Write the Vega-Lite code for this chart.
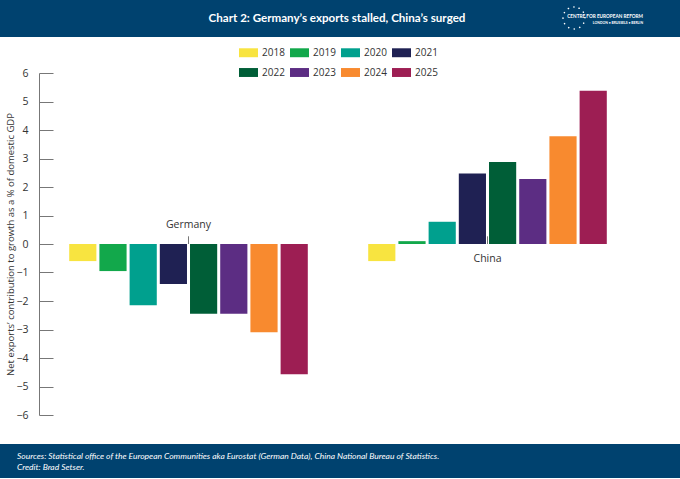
{
  "$schema": "https://vega.github.io/schema/vega-lite/v6.json",
  "padding": 0,
  "spacing": 0,
  "background": "white",
  "vconcat": [
    {
      "width": 680,
      "height": 37,
      "view": {"fill": "#00426f", "stroke": null},
      "layer": [
        {
          "data": {"values": [{"t": "Chart 2: Germany’s exports stalled, China’s surged"}]},
          "mark": {"type": "text", "color": "white", "font": "Lato", "fontSize": 11.6, "fontWeight": "bold", "baseline": "middle", "dx": -3},
          "encoding": {"text": {"field": "t"}}
        },
        {
          "data": {"values": [{"t": "CENTRE FOR EUROPEAN REFORM"}]},
          "mark": {"type": "text", "color": "white", "font": "Lato", "fontSize": 4.7, "fontWeight": "bold", "align": "right", "baseline": "middle", "x": 643, "y": 17},
          "encoding": {"text": {"field": "t"}}
        },
        {
          "data": {"values": [{"t": "LONDON • BRUSSELS • BERLIN"}]},
          "mark": {"type": "text", "color": "white", "font": "Lato", "fontSize": 3.4, "fontWeight": "bold", "align": "right", "baseline": "middle", "x": 643, "y": 23},
          "encoding": {"text": {"field": "t"}}
        },
        {
          "data": {"values": [{"t": "stars"}]},
          "mark": {"type": "arc", "x": 574, "y": 18, "innerRadius": 0, "outerRadius": 11, "fill": "transparent", "stroke": "white", "strokeWidth": 1.6, "strokeCap": "round", "strokeDash": [0.1, 5.66]},
          "encoding": {}
        }
      ]
    },
    {
      "width": 680,
      "height": 407,
      "encoding": {
        "y": {
          "type": "quantitative",
          "scale": {"domain": [-6, 6], "range": [378, 36], "nice": false},
          "axis": {
            "values": [-6, -5, -4, -3, -2, -1, 0, 1, 2, 3, 4, 5, 6],
            "tickCount": 13,
            "labelOverlap": false,
            "title": "Net exports’ contribution to growth as a % of domestic GDP"
          }
        }
      },
      "layer": [
        {
          "data": {
            "values": [
              {"country": "Germany", "year": "2018", "value": -0.6},
              {"country": "Germany", "year": "2019", "value": -0.95},
              {"country": "Germany", "year": "2020", "value": -2.15},
              {"country": "Germany", "year": "2021", "value": -1.4},
              {"country": "Germany", "year": "2022", "value": -2.45},
              {"country": "Germany", "year": "2023", "value": -2.45},
              {"country": "Germany", "year": "2024", "value": -3.1},
              {"country": "Germany", "year": "2025", "value": -4.57},
              {"country": "China", "year": "2018", "value": -0.6},
              {"country": "China", "year": "2019", "value": 0.1},
              {"country": "China", "year": "2020", "value": 0.78},
              {"country": "China", "year": "2021", "value": 2.47},
              {"country": "China", "year": "2022", "value": 2.88},
              {"country": "China", "year": "2023", "value": 2.28},
              {"country": "China", "year": "2024", "value": 3.78},
              {"country": "China", "year": "2025", "value": 5.38}
            ]
          },
          "mark": {"type": "bar"},
          "encoding": {
            "x": {
              "field": "country", "type": "nominal",
              "scale": {"domain": ["Germany", "China"], "range": [39, 637], "paddingInner": 0, "paddingOuter": 0},
              "axis": null
            },
            "xOffset": {
              "field": "year", "type": "nominal",
              "scale": {"paddingInner": 0.1, "paddingOuter": 1.03}
            },
            "y": {"field": "value"},
            "color": {
              "field": "year", "type": "nominal",
              "scale": {
                "domain": ["2018", "2019", "2020", "2021", "2022", "2023", "2024", "2025"],
                "range": ["#f8e440", "#12a84b", "#00a08e", "#1f2153", "#005e37", "#5c2d83", "#f88a2f", "#9d1e53"]
              },
              "legend": {
                "orient": "none",
                "legendX": 239,
                "legendY": 43,
                "padding": 0,
                "direction": "horizontal",
                "columns": 4,
                "title": null,
                "symbolType": "M-1,-0.47H1V0.47H-1Z",
                "symbolSize": 361,
                "symbolStrokeWidth": 0,
                "labelFont": "Open Sans",
                "labelFontSize": 10,
                "labelColor": "#333",
                "labelOffset": 4,
                "columnPadding": 5,
                "rowPadding": 5
              }
            }
          }
        },
        {
          "mark": {"type": "rule", "color": "#555", "strokeWidth": 1},
          "encoding": {
            "x": {"datum": "Germany", "bandPosition": 0},
            "x2": {"datum": "China", "bandPosition": 1},
            "y": {"datum": 0}
          }
        },
        {
          "data": {"values": [{"country": "Germany"}, {"country": "China"}]},
          "mark": {"type": "rule", "color": "#777", "strokeWidth": 1},
          "encoding": {
            "x": {"field": "country", "type": "nominal"},
            "y": {"datum": 0},
            "y2": {"datum": 0.27}
          }
        },
        {
          "data": {"values": [{"country": "Germany"}]},
          "mark": {"type": "text", "font": "Open Sans", "fontSize": 10.5, "color": "#333", "baseline": "middle", "dy": -19},
          "encoding": {
            "x": {"field": "country", "type": "nominal"},
            "y": {"datum": 0},
            "text": {"field": "country"}
          }
        },
        {
          "data": {"values": [{"country": "China"}]},
          "mark": {"type": "text", "font": "Open Sans", "fontSize": 10.5, "color": "#333", "baseline": "middle", "dy": 15},
          "encoding": {
            "x": {"field": "country", "type": "nominal"},
            "y": {"datum": 0},
            "text": {"field": "country"}
          }
        }
      ]
    },
    {
      "width": 680,
      "height": 34,
      "view": {"fill": "#00426f", "stroke": null},
      "data": {"values": [{"t": "Sources: Statistical office of the European Communities aka Eurostat (German Data), China National Bureau of Statistics.\nCredit: Brad Setser."}]},
      "mark": {"type": "text", "color": "white", "font": "Lato", "fontSize": 8.5, "fontStyle": "italic", "align": "left", "baseline": "middle", "lineBreak": "\n", "lineHeight": 11, "x": 17, "dy": -5},
      "encoding": {"text": {"field": "t"}}
    }
  ],
  "config": {
    "view": {"stroke": null},
    "concat": {"spacing": 0},
    "axisY": {
      "offset": -39,
      "grid": false,
      "labelOverlap": false,
      "tickSize": -14,
      "labelPadding": 25,
      "domainColor": "#777",
      "tickColor": "#777",
      "labelColor": "#333",
      "labelFont": "Open Sans",
      "labelFontSize": 10.5,
      "titleFont": "Open Sans",
      "titleFontSize": 9.5,
      "titleFontWeight": "normal",
      "titleColor": "#333",
      "titlePadding": 0
    }
  }
}
